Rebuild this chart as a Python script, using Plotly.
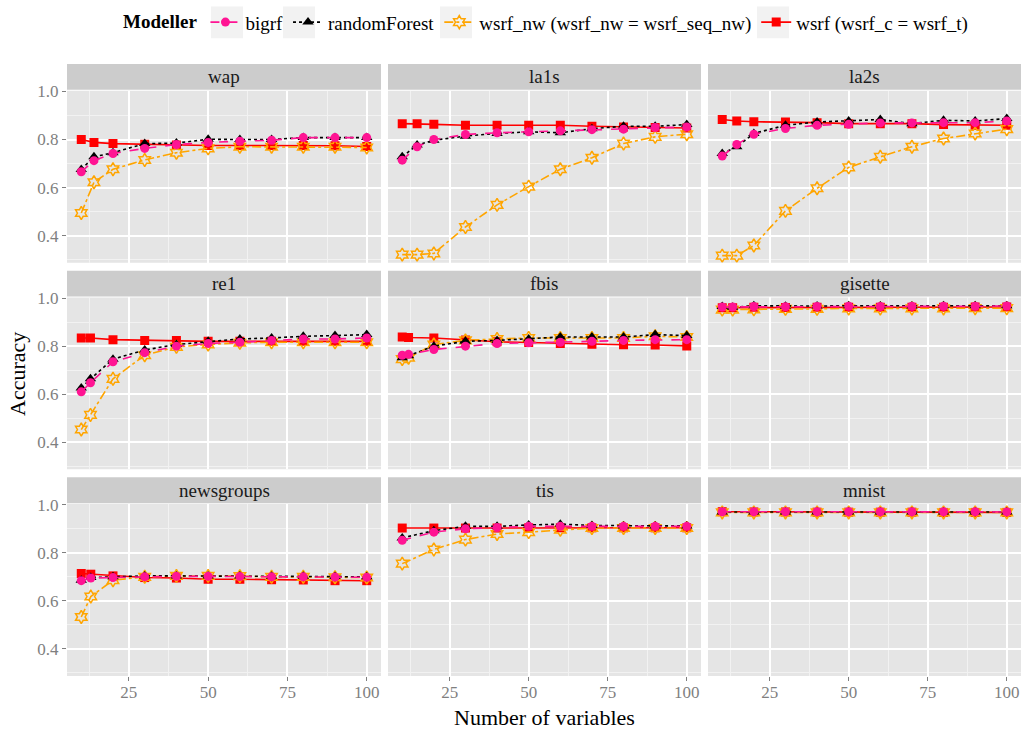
import plotly.graph_objects as go

# ---- data: accuracy vs number of variables, per dataset ----
panels = ["wap", "la1s", "la2s", "re1", "fbis", "gisette", "newsgroups", "tis", "mnist"]

wap_x = [10, 14, 20, 30, 40, 50, 60, 70, 80, 90, 100]
wap_bigrf = [0.666, 0.712, 0.742, 0.763, 0.779, 0.788, 0.793, 0.797, 0.808, 0.808, 0.808]
wap_rf = [0.675, 0.728, 0.745, 0.783, 0.785, 0.801, 0.800, 0.800, 0.808, 0.808, 0.808]
wap_nw = [0.494, 0.622, 0.676, 0.715, 0.745, 0.763, 0.770, 0.770, 0.770, 0.770, 0.767]
wap_wsrf = [0.800, 0.788, 0.783, 0.780, 0.777, 0.775, 0.775, 0.775, 0.775, 0.774, 0.771]

la1s_x = [10, 14.7, 20, 30, 40, 50, 60, 70, 80, 90, 100]
la1s_bigrf = [0.714, 0.770, 0.800, 0.821, 0.828, 0.832, 0.836, 0.841, 0.843, 0.850, 0.852]
la1s_rf = [0.728, 0.777, 0.797, 0.814, 0.825, 0.832, 0.828, 0.845, 0.855, 0.855, 0.862]
la1s_nw = [0.321, 0.321, 0.326, 0.436, 0.528, 0.604, 0.676, 0.724, 0.783, 0.811, 0.822]
la1s_wsrf = [0.866, 0.866, 0.863, 0.859, 0.859, 0.859, 0.859, 0.855, 0.852, 0.850, 0.848]

la2s_x = [10, 14.6, 20, 30, 40, 50, 60, 70, 80, 90, 100]
la2s_bigrf = [0.731, 0.779, 0.822, 0.846, 0.859, 0.863, 0.869, 0.869, 0.870, 0.870, 0.877]
la2s_rf = [0.742, 0.770, 0.825, 0.859, 0.873, 0.877, 0.883, 0.866, 0.880, 0.877, 0.887]
la2s_nw = [0.317, 0.317, 0.359, 0.503, 0.597, 0.684, 0.728, 0.770, 0.804, 0.825, 0.843]
la2s_wsrf = [0.883, 0.877, 0.874, 0.873, 0.870, 0.866, 0.866, 0.866, 0.862, 0.859, 0.859]

re1_x = [10, 12.9, 20, 30, 40, 50, 60, 70, 80, 90, 100]
re1_bigrf = [0.610, 0.648, 0.735, 0.773, 0.800, 0.811, 0.816, 0.824, 0.830, 0.830, 0.834]
re1_rf = [0.626, 0.664, 0.746, 0.784, 0.807, 0.820, 0.830, 0.834, 0.841, 0.844, 0.848]
re1_nw = [0.453, 0.514, 0.664, 0.762, 0.797, 0.807, 0.814, 0.816, 0.816, 0.816, 0.816]
re1_wsrf = [0.834, 0.834, 0.827, 0.824, 0.823, 0.820, 0.820, 0.820, 0.820, 0.820, 0.820]

fbis_x = [10, 12, 20, 30, 40, 50, 60, 70, 80, 90, 100]
fbis_bigrf = [0.762, 0.766, 0.786, 0.800, 0.811, 0.814, 0.816, 0.820, 0.824, 0.827, 0.827]
fbis_rf = [0.752, 0.760, 0.800, 0.820, 0.824, 0.830, 0.838, 0.838, 0.838, 0.848, 0.844]
fbis_nw = [0.746, 0.752, 0.807, 0.824, 0.830, 0.834, 0.834, 0.834, 0.834, 0.841, 0.838]
fbis_wsrf = [0.838, 0.836, 0.834, 0.826, 0.818, 0.815, 0.811, 0.808, 0.806, 0.805, 0.801]

gisette_x = [10, 13.3, 20, 30, 40, 50, 60, 70, 80, 90, 100]
gisette_bigrf = [0.963, 0.963, 0.965, 0.964, 0.965, 0.966, 0.965, 0.966, 0.966, 0.966, 0.967]
gisette_rf = [0.965, 0.962, 0.968, 0.966, 0.967, 0.968, 0.967, 0.967, 0.968, 0.968, 0.968]
gisette_nw = [0.952, 0.952, 0.953, 0.955, 0.955, 0.957, 0.957, 0.957, 0.957, 0.958, 0.958]
gisette_wsrf = [0.960, 0.960, 0.962, 0.961, 0.962, 0.962, 0.962, 0.962, 0.962, 0.963, 0.963]

newsgroups_x = [10, 13, 20, 30, 40, 50, 60, 70, 80, 90, 100]
newsgroups_bigrf = [0.684, 0.695, 0.697, 0.700, 0.702, 0.702, 0.701, 0.700, 0.700, 0.699, 0.698]
newsgroups_rf = [0.686, 0.697, 0.700, 0.704, 0.704, 0.704, 0.703, 0.702, 0.702, 0.701, 0.700]
newsgroups_nw = [0.533, 0.618, 0.686, 0.700, 0.704, 0.704, 0.703, 0.700, 0.700, 0.698, 0.697]
newsgroups_wsrf = [0.714, 0.711, 0.704, 0.697, 0.695, 0.690, 0.690, 0.688, 0.687, 0.684, 0.684]

tis_x = [10, 20, 30, 40, 50, 60, 70, 80, 90, 100]
tis_bigrf = [0.852, 0.886, 0.900, 0.905, 0.910, 0.910, 0.910, 0.910, 0.910, 0.910]
tis_rf = [0.862, 0.892, 0.910, 0.910, 0.916, 0.919, 0.914, 0.912, 0.912, 0.912]
tis_nw = [0.755, 0.814, 0.855, 0.878, 0.886, 0.896, 0.903, 0.903, 0.903, 0.903]
tis_wsrf = [0.903, 0.903, 0.903, 0.903, 0.904, 0.904, 0.904, 0.904, 0.904, 0.904]

mnist_x = [10, 20, 30, 40, 50, 60, 70, 80, 90, 100]
mnist_bigrf = [0.971, 0.971, 0.971, 0.971, 0.971, 0.971, 0.971, 0.971, 0.971, 0.970]
mnist_rf = [0.970, 0.970, 0.970, 0.970, 0.970, 0.970, 0.970, 0.970, 0.970, 0.970]
mnist_nw = [0.968, 0.968, 0.968, 0.968, 0.968, 0.968, 0.968, 0.968, 0.968, 0.968]
mnist_wsrf = [0.971, 0.970, 0.970, 0.969, 0.969, 0.969, 0.969, 0.968, 0.968, 0.968]

x_ticks = [25, 50, 75, 100]
y_ticks = [0.4, 0.6, 0.8, 1.0]
y_tick_text = ["0.4", "0.6", "0.8", "1.0"]

# ---- styling ----
FONT = "'Liberation Serif', 'Times New Roman', Times, serif"
PANEL_BG = "#E5E5E5"
STRIP_BG = "#CCCCCC"
TICK_GREY = "#7F7F7F"

series = [
    # key, legend label, colour, marker symbol, size, dash, legend rank
    ("wsrf", "wsrf (wsrf_c = wsrf_t)", "#FF0000", "square", 9, "solid", 4),
    ("nw", "wsrf_nw (wsrf_nw = wsrf_seq_nw)", "#FFA500", "hexagram-open", 10, "dashdot", 3),
    ("rf", "randomForest", "#000000", "triangle-up", 10, "dot", 2),
    ("bigrf", "bigrf", "#FF1493", "circle", 9, "dash", 1),
]

data = {p: {"x": globals()[p + "_x"],
            "bigrf": globals()[p + "_bigrf"],
            "rf": globals()[p + "_rf"],
            "nw": globals()[p + "_nw"],
            "wsrf": globals()[p + "_wsrf"]} for p in panels}

# ---- layout geometry (paper fractions) ----
W, H = 1024, 731
ML, MR, MT, MB = 67, 3, 60, 55
PW, PH = W - ML - MR, H - MT - MB

def px_x(px):
    return (px - ML) / PW

def px_y(py):
    return (H - MB - py) / PH

col_px = [(67, 381), (388, 701), (708, 1021)]
row_px = [(87, 260), (295, 468), (503, 676)]   # panel top/bottom
strip_h = 26
x_range = [5.5, 104.5]
y_range = [0.2875, 1.0025]

fig = go.Figure()

for i, p in enumerate(panels):
    r, c = divmod(i, 3)
    n = i + 1
    xa = "x" if n == 1 else f"x{n}"
    ya = "y" if n == 1 else f"y{n}"
    d = data[p]
    for key, label, color, sym, size, dash, rank in series:
        fig.add_trace(go.Scatter(
            x=d["x"], y=d[key], mode="lines+markers",
            name=label, legendgroup=key, showlegend=(i == 0), legendrank=rank,
            line=dict(color=color, width=1.6, dash=dash),
            marker=dict(color=color, symbol=sym, size=size,
                        line=dict(width=1.5 if sym.endswith("open") else 0, color=color)),
            xaxis=xa, yaxis=ya,
        ))

    x0, x1 = col_px[c]
    top, bot = row_px[r]
    xkey = "xaxis" if n == 1 else f"xaxis{n}"
    ykey = "yaxis" if n == 1 else f"yaxis{n}"
    fig.layout[xkey] = dict(
        domain=[px_x(x0), px_x(x1)], range=x_range, anchor=ya,
        tickvals=x_ticks, showticklabels=(r == 2),
        ticks="outside" if r == 2 else "", ticklen=4, tickcolor=TICK_GREY, tickwidth=1.2,
        tickfont=dict(family=FONT, size=17, color=TICK_GREY), ticklabelstandoff=-3,
        showgrid=True, gridcolor="white", gridwidth=1.5,
        minor=dict(dtick=12.5, tick0=0, showgrid=True, gridcolor="#F2F2F2", gridwidth=0.8),
        zeroline=False, showline=False, fixedrange=True,
    )
    fig.layout[ykey] = dict(
        domain=[px_y(bot), px_y(top)], range=y_range, anchor=xa,
        tickvals=y_ticks, ticktext=y_tick_text, showticklabels=(c == 0),
        ticks="outside" if c == 0 else "", ticklen=4, tickcolor=TICK_GREY, tickwidth=1.2,
        tickfont=dict(family=FONT, size=17, color=TICK_GREY),
        showgrid=True, gridcolor="white", gridwidth=1.5,
        minor=dict(dtick=0.1, tick0=0, showgrid=True, gridcolor="#F2F2F2", gridwidth=0.8),
        zeroline=False, showline=False, fixedrange=True,
    )

    # panel background
    fig.add_shape(type="rect", xref="paper", yref="paper", layer="below",
                  x0=px_x(x0), x1=px_x(x1), y0=px_y(bot), y1=px_y(top),
                  fillcolor=PANEL_BG, line=dict(width=0))
    # facet strip
    fig.add_shape(type="rect", xref="paper", yref="paper",
                  x0=px_x(x0), x1=px_x(x1), y0=px_y(top - 1), y1=px_y(top - 1 - strip_h),
                  fillcolor=STRIP_BG, line=dict(width=0))
    fig.add_annotation(text=p, xref="paper", yref="paper", showarrow=False,
                       x=px_x((x0 + x1) / 2), y=px_y(top - 1 - strip_h / 2),
                       xanchor="center", yanchor="middle",
                       font=dict(family=FONT, size=19, color="#1A1A1A"))

# legend key backgrounds (ggplot-style grey key boxes)
for kx in [211, 283, 440, 757]:
    fig.add_shape(type="rect", xref="paper", yref="paper", layer="below",
                  x0=px_x(kx), x1=px_x(kx + 32), y0=px_y(34), y1=px_y(2),
                  fillcolor="#F2F2F2", line=dict(width=0))

# axis titles
fig.add_annotation(text="Number of variables", xref="paper", yref="paper", showarrow=False,
                   x=px_x(544), y=px_y(718), xanchor="center", yanchor="middle",
                   font=dict(family=FONT, size=22, color="black"))
fig.add_annotation(text="Accuracy", xref="paper", yref="paper", showarrow=False,
                   x=px_x(18), y=px_y(372), xanchor="center", yanchor="middle", textangle=-90,
                   font=dict(family=FONT, size=22, color="black"))

fig.update_layout(
    width=W, height=H,
    margin=dict(l=ML, r=MR, t=MT, b=MB),
    paper_bgcolor="white", plot_bgcolor="rgba(0,0,0,0)",
    font=dict(family=FONT),
    showlegend=True,
    legend=dict(
        orientation="h", x=px_x(547), y=px_y(18), xanchor="center", yanchor="middle",
        title=dict(text="<b>Modeller</b>", font=dict(family=FONT, size=19, color="black")),
        font=dict(family=FONT, size=19, color="black"),
        itemwidth=30, tracegroupgap=0, bgcolor="rgba(0,0,0,0)",
    ),
)

fig.write_html("out.html")
